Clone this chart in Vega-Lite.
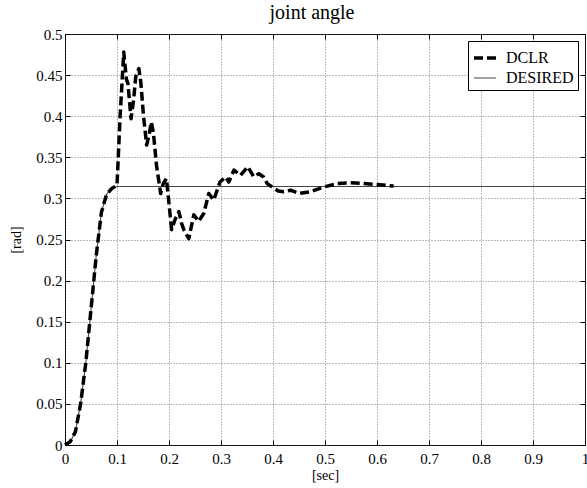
{
  "$schema": "https://vega.github.io/schema/vega-lite/v6.json",
  "width": 520,
  "height": 411,
  "autosize": "none",
  "padding": {"left": 65, "top": 34, "right": 2, "bottom": 43},
  "background": "white",
  "title": {"text": "joint angle", "font": "Liberation Serif", "fontSize": 20, "fontWeight": "normal", "color": "black", "offset": 4, "dx": -13},
  "config": {
    "view": {"stroke": "black", "strokeWidth": 1},
    "axis": {"labelFont": "Liberation Serif", "labelFontSize": 15, "labelColor": "black", "titleFont": "Liberation Serif", "titleFontSize": 14, "titleFontWeight": "normal", "titleColor": "black", "domain": false, "tickColor": "black", "tickSize": -5, "gridColor": "#555", "gridDash": [1, 2], "gridWidth": 0.8, "gridOpacity": 1},
    "legend": {"strokeColor": "black", "fillColor": "white", "padding": 4, "symbolType": "stroke", "symbolSize": 484, "labelFont": "Liberation Serif", "labelFontSize": 16, "labelColor": "black", "labelOffset": 8, "rowPadding": -5, "cornerRadius": 0}
  },
  "data": {"values": [
    {"t": 0, "y": 0, "s": "DESIRED"},
    {"t": 0.01, "y": 0.004, "s": "DESIRED"},
    {"t": 0.02, "y": 0.016, "s": "DESIRED"},
    {"t": 0.03, "y": 0.05, "s": "DESIRED"},
    {"t": 0.04, "y": 0.1, "s": "DESIRED"},
    {"t": 0.05, "y": 0.165, "s": "DESIRED"},
    {"t": 0.06, "y": 0.23, "s": "DESIRED"},
    {"t": 0.07, "y": 0.283, "s": "DESIRED"},
    {"t": 0.08, "y": 0.305, "s": "DESIRED"},
    {"t": 0.09, "y": 0.312, "s": "DESIRED"},
    {"t": 0.1, "y": 0.3145, "s": "DESIRED"},
    {"t": 1.0, "y": 0.3145, "s": "DESIRED"},
    {"t": 0, "y": 0, "s": "DCLR"},
    {"t": 0.01, "y": 0.004, "s": "DCLR"},
    {"t": 0.02, "y": 0.016, "s": "DCLR"},
    {"t": 0.03, "y": 0.05, "s": "DCLR"},
    {"t": 0.04, "y": 0.1, "s": "DCLR"},
    {"t": 0.05, "y": 0.165, "s": "DCLR"},
    {"t": 0.06, "y": 0.23, "s": "DCLR"},
    {"t": 0.07, "y": 0.283, "s": "DCLR"},
    {"t": 0.08, "y": 0.305, "s": "DCLR"},
    {"t": 0.09, "y": 0.312, "s": "DCLR"},
    {"t": 0.1, "y": 0.316, "s": "DCLR"},
    {"t": 0.106, "y": 0.4, "s": "DCLR"},
    {"t": 0.113, "y": 0.478, "s": "DCLR"},
    {"t": 0.118, "y": 0.445, "s": "DCLR"},
    {"t": 0.121, "y": 0.44, "s": "DCLR"},
    {"t": 0.127, "y": 0.397, "s": "DCLR"},
    {"t": 0.132, "y": 0.42, "s": "DCLR"},
    {"t": 0.136, "y": 0.448, "s": "DCLR"},
    {"t": 0.142, "y": 0.458, "s": "DCLR"},
    {"t": 0.146, "y": 0.44, "s": "DCLR"},
    {"t": 0.151, "y": 0.4, "s": "DCLR"},
    {"t": 0.157, "y": 0.365, "s": "DCLR"},
    {"t": 0.161, "y": 0.375, "s": "DCLR"},
    {"t": 0.166, "y": 0.393, "s": "DCLR"},
    {"t": 0.17, "y": 0.38, "s": "DCLR"},
    {"t": 0.176, "y": 0.34, "s": "DCLR"},
    {"t": 0.184, "y": 0.306, "s": "DCLR"},
    {"t": 0.189, "y": 0.318, "s": "DCLR"},
    {"t": 0.195, "y": 0.324, "s": "DCLR"},
    {"t": 0.199, "y": 0.3, "s": "DCLR"},
    {"t": 0.205, "y": 0.262, "s": "DCLR"},
    {"t": 0.212, "y": 0.275, "s": "DCLR"},
    {"t": 0.219, "y": 0.284, "s": "DCLR"},
    {"t": 0.224, "y": 0.27, "s": "DCLR"},
    {"t": 0.2285, "y": 0.262, "s": "DCLR"},
    {"t": 0.238, "y": 0.251, "s": "DCLR"},
    {"t": 0.2477, "y": 0.28, "s": "DCLR"},
    {"t": 0.257, "y": 0.272, "s": "DCLR"},
    {"t": 0.267, "y": 0.282, "s": "DCLR"},
    {"t": 0.2765, "y": 0.306, "s": "DCLR"},
    {"t": 0.286, "y": 0.298, "s": "DCLR"},
    {"t": 0.298, "y": 0.32, "s": "DCLR"},
    {"t": 0.309, "y": 0.326, "s": "DCLR"},
    {"t": 0.315, "y": 0.32, "s": "DCLR"},
    {"t": 0.325, "y": 0.3345, "s": "DCLR"},
    {"t": 0.3375, "y": 0.328, "s": "DCLR"},
    {"t": 0.3515, "y": 0.3386, "s": "DCLR"},
    {"t": 0.363, "y": 0.3264, "s": "DCLR"},
    {"t": 0.3727, "y": 0.33, "s": "DCLR"},
    {"t": 0.382, "y": 0.326, "s": "DCLR"},
    {"t": 0.389, "y": 0.318, "s": "DCLR"},
    {"t": 0.398, "y": 0.314, "s": "DCLR"},
    {"t": 0.41, "y": 0.309, "s": "DCLR"},
    {"t": 0.421, "y": 0.308, "s": "DCLR"},
    {"t": 0.4337, "y": 0.31, "s": "DCLR"},
    {"t": 0.4497, "y": 0.306, "s": "DCLR"},
    {"t": 0.472, "y": 0.308, "s": "DCLR"},
    {"t": 0.498, "y": 0.314, "s": "DCLR"},
    {"t": 0.5235, "y": 0.318, "s": "DCLR"},
    {"t": 0.549, "y": 0.319, "s": "DCLR"},
    {"t": 0.575, "y": 0.318, "s": "DCLR"},
    {"t": 0.6, "y": 0.317, "s": "DCLR"},
    {"t": 0.632, "y": 0.315, "s": "DCLR"}
  ]},
  "encoding": {
    "color": {"field": "s", "type": "nominal", "scale": {"domain": ["DCLR", "DESIRED"], "range": ["black", "#444444"]}, "legend": {"orient": "none", "legendX": 403, "legendY": 7, "title": null}},
    "strokeDash": {"field": "s", "type": "nominal", "scale": {"domain": ["DCLR", "DESIRED"], "range": [[9, 4], [1, 0]]}},
    "strokeWidth": {"field": "s", "type": "nominal", "scale": {"domain": ["DCLR", "DESIRED"], "range": [3.5, 1.1]}}
  },
  "layer": [
    {
      "transform": [{"filter": "datum.s === 'DESIRED'"}],
      "mark": {"type": "line", "interpolate": "linear"},
      "encoding": {
        "x": {"field": "t", "type": "quantitative", "scale": {"domain": [0, 1], "nice": false, "zero": false}, "axis": {"orient": "bottom", "title": "[sec]", "format": "~g", "values": [0, 0.1, 0.2, 0.3, 0.4, 0.5, 0.6, 0.7, 0.8, 0.9, 1], "labelPadding": 11, "titlePadding": 2, "labelFlush": false}},
        "y": {"field": "y", "type": "quantitative", "scale": {"domain": [0, 0.5], "nice": false}, "axis": {"orient": "left", "title": "[rad]", "format": "~g", "values": [0, 0.05, 0.1, 0.15, 0.2, 0.25, 0.3, 0.35, 0.4, 0.45, 0.5], "labelPadding": 8, "titlePadding": 12, "labelFlush": false}}
      }
    },
    {
      "transform": [{"filter": "datum.s === 'DCLR'"}],
      "mark": {"type": "line", "interpolate": "linear", "strokeCap": "butt", "strokeJoin": "round"},
      "encoding": {
        "x": {"field": "t", "type": "quantitative", "axis": {"orient": "top", "title": null, "labels": false, "grid": false, "values": [0, 0.1, 0.2, 0.3, 0.4, 0.5, 0.6, 0.7, 0.8, 0.9, 1]}},
        "y": {"field": "y", "type": "quantitative", "axis": {"orient": "right", "title": null, "labels": false, "grid": false, "values": [0, 0.05, 0.1, 0.15, 0.2, 0.25, 0.3, 0.35, 0.4, 0.45, 0.5]}}
      }
    }
  ],
  "resolve": {"axis": {"x": "independent", "y": "independent"}}
}
